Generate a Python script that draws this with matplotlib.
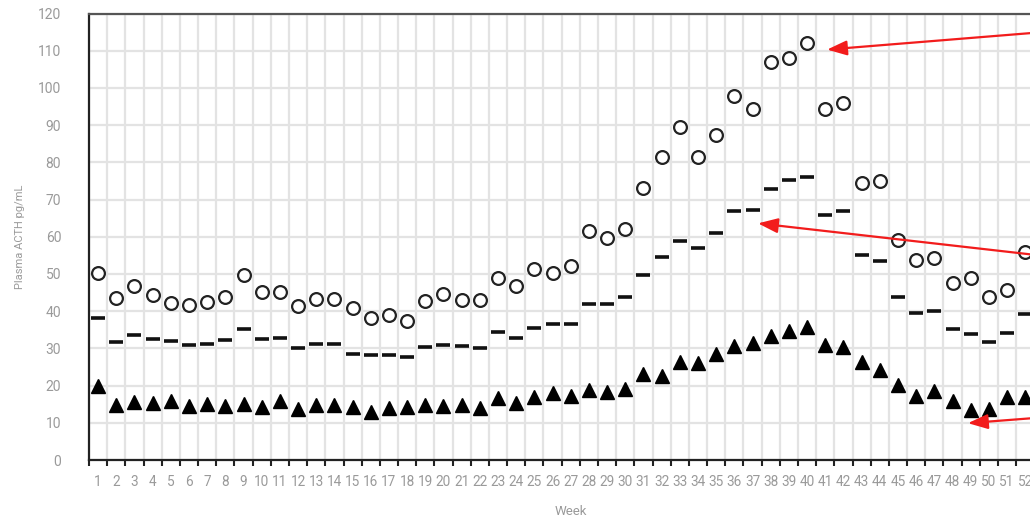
import matplotlib
matplotlib.use("Agg")
import matplotlib.pyplot as plt
from matplotlib.ticker import FixedLocator, NullFormatter

plt.rcParams["font.family"] = ["Roboto", "DejaVu Sans"]

# Semanas e valores
weeks = list(range(1, 53))

upper = [50.2, 43.6, 46.8, 44.4, 42.2, 41.7, 42.5, 43.9, 49.8, 45.2,
         45.2, 41.4, 43.3, 43.3, 40.9, 38.2, 39.0, 37.4, 42.8, 44.7,
         43.0, 43.0, 49.0, 46.8, 51.4, 50.3, 52.2, 61.6, 59.7, 62.1,
         73.2, 81.5, 89.6, 81.5, 87.4, 97.9, 94.2, 107.0, 108.0, 112.2,
         94.2, 96.0, 74.5, 75.0, 59.2, 53.8, 54.3, 47.6, 49.0, 43.9,
         45.7, 55.8]

median = [38.1, 31.7, 33.6, 32.6, 32.0, 30.9, 31.2, 32.3, 35.2, 32.6,
          32.8, 30.1, 31.2, 31.2, 28.5, 28.2, 28.2, 27.7, 30.4, 30.9,
          30.7, 30.1, 34.4, 32.8, 35.5, 36.6, 36.6, 42.0, 42.0, 43.9,
          49.8, 54.6, 58.9, 57.0, 61.0, 67.0, 67.3, 72.9, 75.3, 76.1,
          65.9, 67.0, 55.2, 53.5, 43.9, 39.5, 40.1, 35.2, 33.9, 31.7,
          34.2, 39.3]

lower = [19.9, 14.8, 15.6, 15.3, 15.9, 14.5, 15.1, 14.5, 15.1, 14.3,
         15.9, 13.7, 14.8, 14.8, 14.3, 12.9, 14.0, 14.3, 14.8, 14.5,
         14.8, 14.0, 16.7, 15.3, 16.9, 18.0, 17.2, 18.8, 18.3, 19.1,
         23.1, 22.6, 26.4, 26.1, 28.5, 30.7, 31.5, 33.4, 34.7, 35.8,
         30.9, 30.4, 26.4, 24.2, 20.2, 17.2, 18.6, 15.9, 13.5, 13.7,
         16.9, 16.9]

# Setas vermelhas (ponta, cauda fora da área visível)
arrow_tips = [(41.1, 110.3), (37.3, 63.6), (48.85, 9.9)]
arrow_tails = [(56.0, 116.2), (56.0, 53.2), (56.0, 12.6)]

W, H = 1030, 517
fig = plt.figure(figsize=(W / 100, H / 100), dpi=100)
ax = fig.add_axes([89 / W, (H - 460) / H, 963.5 / W, (460 - 13.5) / H])

gray_txt = "#9a9a9a"

ax.plot(weeks, upper, "o", ls="none", mfc="white", mec="#222222", ms=9.2, mew=1.6, zorder=3)
ax.plot(weeks, median, "_", ls="none", color="#111111", ms=10.5, mew=2.6, zorder=3)
ax.plot(weeks, lower, "^", ls="none", color="black", ms=9.5, zorder=3)

for tip, tail in zip(arrow_tips, arrow_tails):
    ax.annotate("", xy=tip, xytext=tail, annotation_clip=False,
                arrowprops=dict(arrowstyle="-|>,head_length=1.2,head_width=0.45",
                                color="#f21c1c", lw=1.6, mutation_scale=10,
                                shrinkA=0, shrinkB=0))

ax.set_xlim(0.5, 53.5)
ax.set_ylim(0, 120)
ax.set_yticks(range(0, 121, 10))

# ticks nas fronteiras, rótulos no centro
ax.xaxis.set_major_locator(FixedLocator([w - 0.5 for w in range(1, 55)]))
ax.xaxis.set_major_formatter(NullFormatter())
ax.set_xticks(weeks, [str(w) for w in weeks], minor=True)
ax.tick_params(axis="x", which="major", length=4, width=1.5, color="#222222", direction="out")
ax.tick_params(axis="x", which="minor", length=0, pad=11, labelsize=9.8, labelcolor=gray_txt)
ax.tick_params(axis="y", length=0, pad=20, labelsize=10, labelcolor=gray_txt)

ax.grid(True, which="major", color="#e3e3e3", lw=1.6, zorder=0)
ax.set_axisbelow(True)

for side in ["left", "bottom"]:
    ax.spines[side].set_color("#222222")
    ax.spines[side].set_linewidth(1.6)
ax.spines["top"].set_color("#555555")
ax.spines["top"].set_linewidth(1.6)
ax.spines["right"].set_visible(False)

ax.set_xlabel("Week", fontsize=9.5, color=gray_txt, labelpad=11)
ax.set_ylabel("Plasma ACTH pg/mL", fontsize=8, color=gray_txt, labelpad=9)

fig.savefig("out.png", dpi=100)
